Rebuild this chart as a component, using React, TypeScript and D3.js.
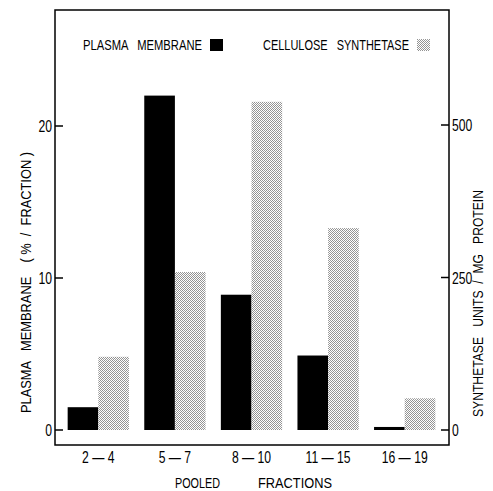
import * as d3 from 'd3'

const categories = ['2 — 4', '5 — 7', '8 — 10', '11 — 15', '16 — 19']
const membrane = [1.5, 22.0, 8.9, 4.9, 0.2]
const synthetase = [120, 259, 538, 331, 52]
const leftTicks = [0, 10, 20]
const rightTicks = [0, 250, 500]

const W = 493
const H = 491
const frame = { left: 55, right: 449, top: 10, bottom: 445 }
const font = "'Liberation Sans', Arial, sans-serif"
const SX = 0.76 // squeeze text horizontally, like the condensed lettering

// checkerboard stipple cells: [x, y, grey]
const stippleCells: [number, number, string][] = [
  [0, 0, '#909090'], [2, 0, '#9c9c9c'], [1, 1, '#959595'], [3, 1, '#8c8c8c'],
  [0, 2, '#9a9a9a'], [2, 2, '#8e8e8e'], [1, 3, '#929292'], [3, 3, '#a0a0a0'],
]

function NText({ x, y, anchor = 'start', size = 16, children }: { x: number; y: number; anchor?: string; size?: number; children: string }) {
  return (
    <g transform={`translate(${x},${y}) scale(${SX},1)`}>
      <text textAnchor={anchor} fontSize={size}>{children}</text>
    </g>
  )
}

export default function App() {
  const x = d3.scaleBand<string>().domain(categories).range([60, 443]).paddingInner(0.2).paddingOuter(0.1)
  const half = x.bandwidth() / 2
  const yL = d3.scaleLinear().domain([0, 20]).range([430, 126])
  const yR = d3.scaleLinear().domain([0, 500]).range([430, 125])

  return (
    <div style={{ position: 'absolute', left: 0, top: 0 }}>
      <svg width={W} height={H} style={{ display: 'block', background: '#fff' }} fontFamily={font}>
        <defs>
          <pattern id="stipple" width={4} height={4} patternUnits="userSpaceOnUse">
            <rect width={4} height={4} fill="#fff" />
            {stippleCells.map(([cx, cy, g]) => (
              <rect key={`${cx}-${cy}`} x={cx} y={cy} width={1} height={1} fill={g} />
            ))}
          </pattern>
        </defs>

        {/* frame */}
        <rect x={frame.left} y={frame.top} width={frame.right - frame.left} height={frame.bottom - frame.top}
          fill="none" stroke="#000" strokeWidth={1.5} />

        {/* bars */}
        {categories.map((c, i) => (
          <g key={c}>
            <rect x={x(c)!} y={yL(membrane[i])} width={half} height={yL(0) - yL(membrane[i])} fill="#000" />
            <rect x={x(c)! + half} y={yR(synthetase[i])} width={half} height={yR(0) - yR(synthetase[i])} fill="url(#stipple)" />
          </g>
        ))}

        {/* left axis ticks */}
        {leftTicks.map(t => (
          <g key={'l' + t}>
            <line x1={frame.left} x2={frame.left + 8} y1={yL(t)} y2={yL(t)} stroke="#000" strokeWidth={1.5} />
            <NText x={frame.left - 3} y={yL(t) + 6} anchor="end">{String(t)}</NText>
          </g>
        ))}

        {/* right axis ticks */}
        {rightTicks.map(t => (
          <g key={'r' + t}>
            <line x1={frame.right - 8} x2={frame.right} y1={yR(t)} y2={yR(t)} stroke="#000" strokeWidth={1.5} />
            <NText x={frame.right + 3} y={yR(t) + 6}>{String(t)}</NText>
          </g>
        ))}

        {/* category labels */}
        {categories.map(c => (
          <NText key={'c' + c} x={x(c)! + half} y={463} anchor="middle">{c}</NText>
        ))}

        {/* x title */}
        <text x={175} y={488} fontSize={15} textLength={45} lengthAdjust="spacingAndGlyphs">POOLED</text>
        <text x={258} y={488} fontSize={15} textLength={74} lengthAdjust="spacingAndGlyphs">FRACTIONS</text>

        {/* legend */}
        <text x={83} y={50} fontSize={15} textLength={119} lengthAdjust="spacingAndGlyphs" style={{ whiteSpace: 'pre' }}>
          {'PLASMA   MEMBRANE'}
        </text>
        <rect x={210} y={39} width={13} height={12} fill="#000" />
        <text x={263} y={50} fontSize={15} textLength={146} lengthAdjust="spacingAndGlyphs" style={{ whiteSpace: 'pre' }}>
          {'CELLULOSE   SYNTHETASE'}
        </text>
        <rect x={417} y={39} width={13} height={12} fill="url(#stipple)" />

        {/* y titles */}
        <text transform="translate(31,413) rotate(-90)" fontSize={15} textLength={261} lengthAdjust="spacingAndGlyphs"
          style={{ whiteSpace: 'pre' }}>
          {'PLASMA   MEMBRANE    ( %  /  FRACTION )'}
        </text>
        <text transform="translate(483,417) rotate(-90)" fontSize={15} textLength={227} lengthAdjust="spacingAndGlyphs"
          style={{ whiteSpace: 'pre' }}>
          {'SYNTHETASE   UNITS  /  MG   PROTEIN'}
        </text>
      </svg>
    </div>
  )
}
